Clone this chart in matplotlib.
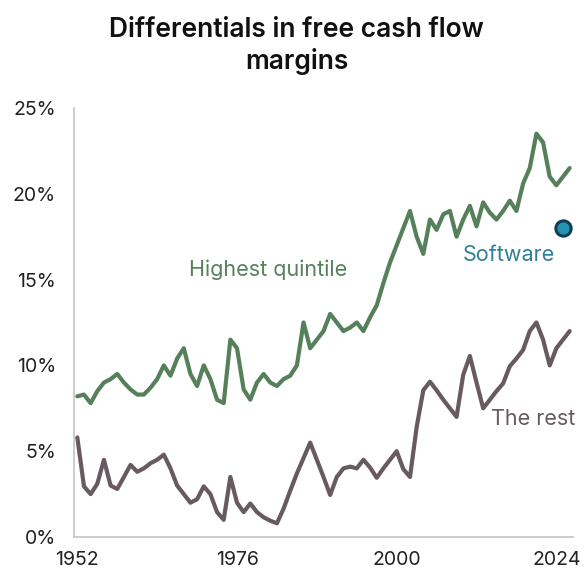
import matplotlib
matplotlib.use("Agg")
import matplotlib.pyplot as plt
import numpy as np

plt.rcParams['font.family'] = ['Inter', 'Lato', 'DejaVu Sans']

# Annual free cash flow margins (%), 1952 onwards
years = list(range(1952, 2027))
highest_quintile = [
    8.2, 8.3, 7.8, 8.5, 9.0, 9.2, 9.5, 9.0, 8.6, 8.3,
    8.3, 8.7, 9.2, 10.0, 9.4, 10.4, 11.0, 9.5, 8.8, 10.0,
    9.2, 8.0, 7.8, 11.5, 11.0, 8.6, 8.0, 9.0, 9.5, 9.0,
    8.8, 9.2, 9.4, 10.0, 12.5, 11.0, 11.5, 12.0, 13.0, 12.5,
    12.0, 12.2, 12.5, 12.0, 12.8, 13.5, 14.8, 16.0, 17.0, 18.0,
    19.0, 17.5, 16.5, 18.5, 17.9, 18.8, 19.0, 17.5, 18.5, 19.3,
    18.1, 19.5, 18.9, 18.5, 19.0, 19.6, 19.0, 20.6, 21.5, 23.5,
    23.0, 21.0, 20.5, 21.0, 21.5,
]
the_rest = [
    5.8, 2.95, 2.5, 3.1, 4.5, 3.0, 2.8, 3.5, 4.2, 3.8,
    4.0, 4.3, 4.5, 4.8, 4.0, 3.0, 2.5, 2.0, 2.2, 2.95,
    2.5, 1.45, 1.0, 3.5, 2.0, 1.45, 1.95, 1.45, 1.15, 0.95,
    0.8, 1.65, 2.7, 3.7, 4.6, 5.5, 4.5, 3.5, 2.45, 3.5,
    4.0, 4.1, 4.0, 4.5, 4.05, 3.45, 4.0, 4.5, 5.0, 3.95,
    3.5, 6.4, 8.55, 9.05, 8.55, 8.0, 7.5, 7.0, 9.45, 10.55,
    9.0, 7.5, 8.0, 8.5, 8.95, 9.95, 10.4, 10.9, 12.0, 12.5,
    11.5, 10.0, 11.0, 11.5, 12.0,
]
software_year = 2025
software_value = 18.0

tick_years = [1952, 1976, 2000, 2024]
tick_pcts = [0, 5, 10, 15, 20, 25]

GREEN = "#55805A"
GREY = "#675A61"
TEAL = "#2E7F99"

fig = plt.figure(figsize=(5.84, 5.74), dpi=100)
ax = fig.add_axes([74 / 584, 1 - 537 / 574, (573 - 74) / 584, (537 - 108) / 574])

ax.plot(years, highest_quintile, color=GREEN, lw=3.0, solid_joinstyle='round',
        solid_capstyle='round')
ax.plot(years, the_rest, color=GREY, lw=3.0, solid_joinstyle='round',
        solid_capstyle='round')
ax.plot([software_year], [software_value], 'o', ms=11, mfc="#2593B0",
        mec="#0E3F55", mew=2.2)

ax.text(1980.7, 15.6, "Highest quintile", color=GREEN, fontsize=15.5,
        ha='center', va='center')
ax.text(2016.8, 16.45, "Software", color=TEAL, fontsize=15.5,
        ha='center', va='center')
ax.text(2020.5, 6.85, "The rest", color=GREY, fontsize=15.5,
        ha='center', va='center')

ax.set_xlim(1951.5, 2026.5)
ax.set_ylim(0, 25)
ax.set_xticks(tick_years)
ax.set_xticklabels([str(y) for y in tick_years])
ax.set_yticks(tick_pcts)
ax.set_yticklabels([f"{p}%" for p in tick_pcts])
ax.tick_params(length=0, labelsize=14, colors="#222222")
ax.tick_params(axis='y', pad=13)
ax.tick_params(axis='x', pad=10)

for side in ('top', 'right'):
    ax.spines[side].set_visible(False)
for side in ('left', 'bottom'):
    ax.spines[side].set_color("#C8C8C8")
    ax.spines[side].set_linewidth(1.3)

fig.text(0.508, 1 - 46 / 574, "Differentials in free cash flow\nmargins",
         ha='center', va='center', fontsize=19, fontweight='semibold',
         linespacing=1.2, color="#111111")

fig.savefig("out.png", dpi=100)
